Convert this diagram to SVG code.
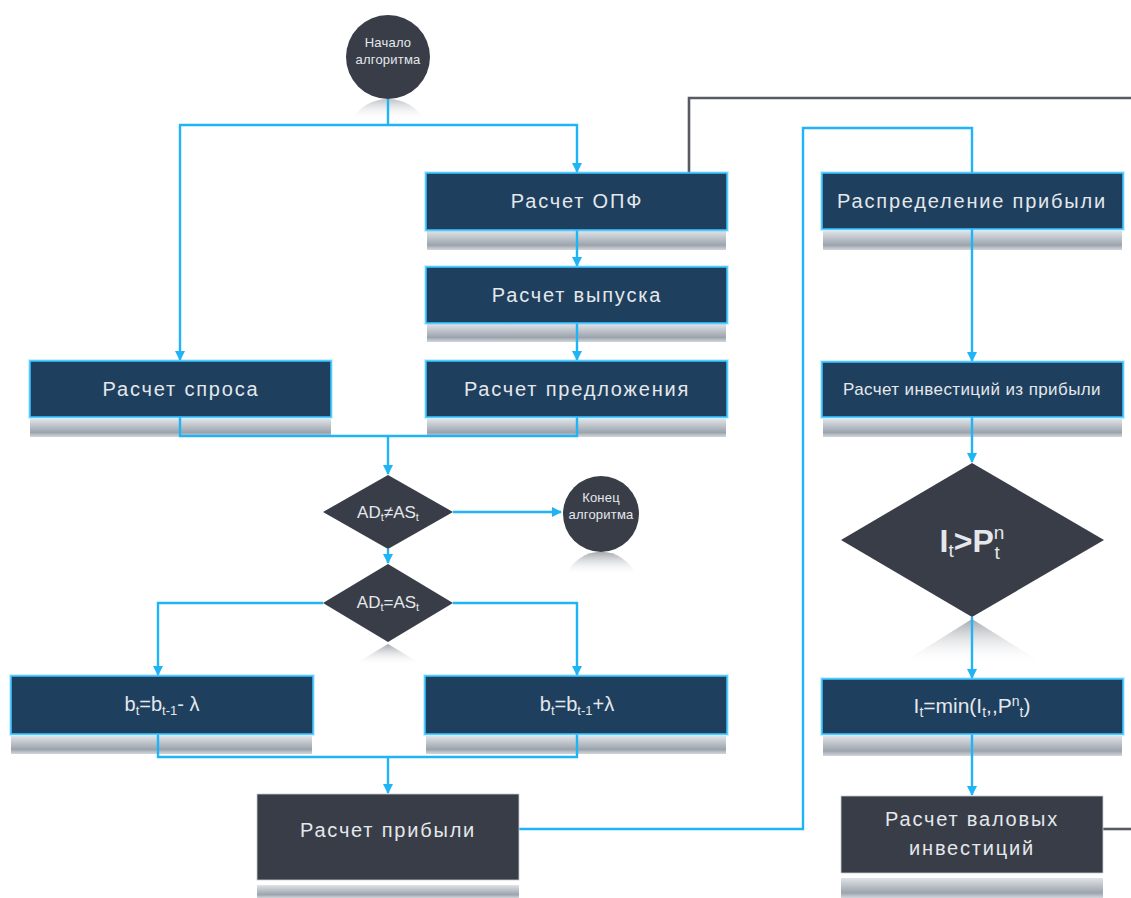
<svg xmlns="http://www.w3.org/2000/svg" width="1131" height="898" viewBox="0 0 1131 898">
  <defs>
    <style>
      .box { fill: #1f3f5e; stroke: #37c2ff; stroke-width: 1.6; }
      .glow { fill: none; stroke: #37c2ff; stroke-width: 4; stroke-opacity: 0.25; }
      .dark { fill: #393d47; stroke: #c9ccd0; stroke-width: 0.8; }
      .shape { fill: #393d47; }
      .lbl { font-family: "Liberation Sans", "DejaVu Sans", sans-serif; fill: #e4e8ec; text-anchor: middle; }
      .big { font-size: 20px; letter-spacing: 1.8px; }
      .mid { font-size: 17px; letter-spacing: 0.4px; }
      .small { font-size: 13px; letter-spacing: 0.2px; }
      .link { fill: none; stroke: #1eb4f6; stroke-width: 2.4; }
      .loop { fill: none; stroke: #575b61; stroke-width: 2.6; }
      .refl { fill: url(#reflBox); }
      .reflShape { fill: url(#reflFade); }
    </style>
    <linearGradient id="reflBox" x1="0" y1="0" x2="0" y2="1">
      <stop offset="0" stop-color="#e0e3e7"/>
      <stop offset="0.75" stop-color="#9ba3ad"/>
      <stop offset="1" stop-color="#b4bac2" stop-opacity="0.6"/>
    </linearGradient>
    <linearGradient id="reflFade" x1="0" y1="0" x2="0" y2="1">
      <stop offset="0" stop-color="#7c828b" stop-opacity="0.7"/>
      <stop offset="1" stop-color="#ffffff" stop-opacity="0"/>
    </linearGradient>
    <marker id="arr" viewBox="0 0 10 10" refX="9" refY="5" markerWidth="10" markerHeight="10" markerUnits="userSpaceOnUse" orient="auto">
      <path d="M0,0 L10,5 L0,10 z" fill="#1eb4f6"/>
    </marker>
  </defs>

  <!-- floor reflections -->
  <g id="reflections">
    <path class="reflShape" d="M351.6,120 A42,42 0 0 1 424.4,120 z" opacity="0.7"/>
    <path class="reflShape" d="M566,575 A38,38 0 0 1 636,575 z"/>
    <polygon class="reflShape" points="388,644 353,665 423,665"/>
    <polygon class="reflShape" points="972,619 900,664 1044,664"/>
    <rect class="refl" x="30" y="419" width="301" height="18"/>
    <rect class="refl" x="427" y="231" width="299" height="19"/>
    <rect class="refl" x="427" y="324" width="299" height="18"/>
    <rect class="refl" x="427" y="419" width="299" height="18"/>
    <rect class="refl" x="823" y="231" width="299" height="19"/>
    <rect class="refl" x="823" y="419" width="299" height="18"/>
    <rect class="refl" x="11" y="736" width="301" height="18"/>
    <rect class="refl" x="426" y="736" width="300" height="18"/>
    <rect class="refl" x="823" y="736" width="299" height="20"/>
    <rect class="refl" x="257" y="885" width="262" height="13"/>
    <rect class="refl" x="841" y="878" width="262" height="20"/>
  </g>

  <!-- connectors -->
  <g id="connectors">
    <path class="loop" d="M689,173 V98 H1131"/>
    <path class="loop" d="M1103,829 H1131"/>
    <path class="link" d="M388,99 V125"/>
    <path class="link" d="M388,125 H180 V360" marker-end="url(#arr)"/>
    <path class="link" d="M388,125 H577 V172" marker-end="url(#arr)"/>
    <path class="link" d="M577,230 V266" marker-end="url(#arr)"/>
    <path class="link" d="M577,323 V360" marker-end="url(#arr)"/>
    <path class="link" d="M180,417 V436 H577 V417"/>
    <path class="link" d="M388,436 V474" marker-end="url(#arr)"/>
    <path class="link" d="M453,512 H561" marker-end="url(#arr)"/>
    <path class="link" d="M388,549 V563" marker-end="url(#arr)"/>
    <path class="link" d="M323,603 H158 V675" marker-end="url(#arr)"/>
    <path class="link" d="M453,603 H577 V675" marker-end="url(#arr)"/>
    <path class="link" d="M158,734 V757 H577 V734"/>
    <path class="link" d="M388,757 V793" marker-end="url(#arr)"/>
    <path class="link" d="M519,829 H803 V128 H972 V173"/>
    <path class="link" d="M972,229 V361" marker-end="url(#arr)"/>
    <path class="link" d="M972,417 V462" marker-end="url(#arr)"/>
    <path class="link" d="M972,617 V678" marker-end="url(#arr)"/>
    <path class="link" d="M972,734 V795" marker-end="url(#arr)"/>
  </g>

  <g id="start">
    <circle class="shape" cx="388" cy="57" r="42"/>
    <text class="lbl small" x="388" y="47">Начало</text>
    <text class="lbl small" x="388" y="64">алгоритма</text>
  </g>

  <g id="calc-opf">
    <rect class="glow" x="426" y="173" width="301" height="57"/>
    <rect class="box" x="426" y="173" width="301" height="57"/>
    <text class="lbl big" x="577" y="208">Расчет ОПФ</text>
  </g>

  <g id="calc-output">
    <rect class="glow" x="426" y="267" width="301" height="56"/>
    <rect class="box" x="426" y="267" width="301" height="56"/>
    <text class="lbl big" x="577" y="302">Расчет выпуска</text>
  </g>

  <g id="calc-supply">
    <rect class="glow" x="426" y="361" width="301" height="56"/>
    <rect class="box" x="426" y="361" width="301" height="56"/>
    <text class="lbl big" x="577" y="396">Расчет предложения</text>
  </g>

  <g id="calc-demand">
    <rect class="glow" x="30" y="361" width="301" height="56"/>
    <rect class="box" x="30" y="361" width="301" height="56"/>
    <text class="lbl big" x="181" y="396">Расчет спроса</text>
  </g>

  <g id="check-neq">
    <polygon class="shape" points="388,475 453,512 388,549 323,512"/>
    <text class="lbl" x="388" y="518" font-size="17">AD<tspan font-size="11" dy="3">t</tspan><tspan dy="-3">≠AS</tspan><tspan font-size="11" dy="3">t</tspan></text>
  </g>

  <g id="end">
    <circle class="shape" cx="601" cy="514" r="38"/>
    <text class="lbl small" x="601" y="502">Конец</text>
    <text class="lbl small" x="601" y="519">алгоритма</text>
  </g>

  <g id="check-eq">
    <polygon class="shape" points="388,564 453,603 388,642 323,603"/>
    <text class="lbl" x="388" y="608" font-size="17">AD<tspan font-size="11" dy="3">t</tspan><tspan dy="-3">=AS</tspan><tspan font-size="11" dy="3">t</tspan></text>
  </g>

  <g id="b-minus">
    <rect class="glow" x="11" y="676" width="302" height="58"/>
    <rect class="box" x="11" y="676" width="302" height="58"/>
    <text class="lbl" x="162" y="711" font-size="20">b<tspan font-size="13" dy="4">t</tspan><tspan dy="-4">=b</tspan><tspan font-size="13" dy="4">t-1</tspan><tspan dy="-4">- λ</tspan></text>
  </g>

  <g id="b-plus">
    <rect class="glow" x="425" y="676" width="302" height="58"/>
    <rect class="box" x="425" y="676" width="302" height="58"/>
    <text class="lbl" x="577" y="711" font-size="20">b<tspan font-size="13" dy="4">t</tspan><tspan dy="-4">=b</tspan><tspan font-size="13" dy="4">t-1</tspan><tspan dy="-4">+λ</tspan></text>
  </g>

  <g id="calc-profit">
    <rect class="dark" x="257" y="794" width="262" height="86"/>
    <text class="lbl big" x="388" y="837">Расчет прибыли</text>
  </g>

  <g id="profit-distribution">
    <rect class="glow" x="822" y="173" width="301" height="56"/>
    <rect class="box" x="822" y="173" width="301" height="56"/>
    <text class="lbl big" x="972" y="208" letter-spacing="2.4">Распределение прибыли</text>
  </g>

  <g id="invest-from-profit">
    <rect class="glow" x="822" y="362" width="301" height="55"/>
    <rect class="box" x="822" y="362" width="301" height="55"/>
    <text class="lbl mid" x="972" y="395">Расчет инвестиций из прибыли</text>
  </g>

  <g id="check-invest">
    <polygon class="shape" points="972,463 1104,540 972,617 841,540"/>
    <text class="lbl" x="972" y="552" font-size="32" font-weight="bold">I<tspan font-size="19" font-weight="normal" dy="5">t</tspan><tspan dy="-5">&gt;P</tspan><tspan font-size="19" font-weight="normal" dy="-13">n</tspan><tspan font-size="19" font-weight="normal" dx="-10" dy="20">t</tspan></text>
  </g>

  <g id="invest-min">
    <rect class="glow" x="822" y="679" width="301" height="55"/>
    <rect class="box" x="822" y="679" width="301" height="55"/>
    <text class="lbl" x="972" y="713" font-size="21">I<tspan font-size="14" dy="4">t</tspan><tspan dy="-4">=min(I</tspan><tspan font-size="14" dy="4">t</tspan><tspan dy="-4">,,P</tspan><tspan font-size="14" dy="-7">n</tspan><tspan font-size="14" dy="11">t</tspan><tspan dy="-4">)</tspan></text>
  </g>

  <g id="gross-invest">
    <rect class="dark" x="841" y="796" width="262" height="77"/>
    <text class="lbl big" x="972" y="826">Расчет валовых</text>
    <text class="lbl big" x="972" y="855">инвестиций</text>
  </g>
</svg>
